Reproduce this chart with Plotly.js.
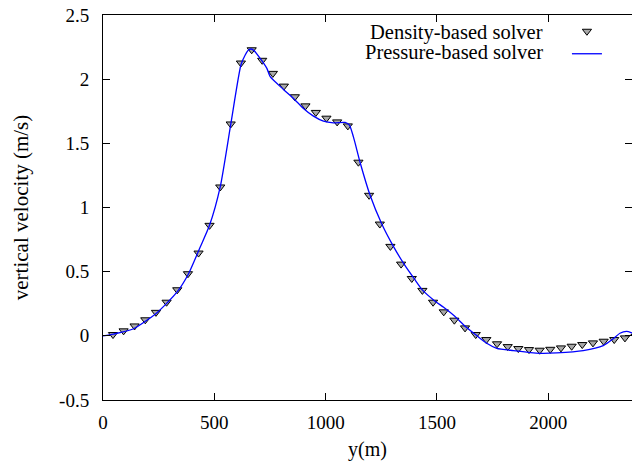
<!DOCTYPE html>
<html>
<head>
<meta charset="utf-8">
<script src="https://cdn.plot.ly/plotly-3.0.1.min.js"></script>
<style>html,body{margin:0;padding:0;background:#fff;}#chart{width:632px;height:467px;}</style>
</head>
<body>
<div id="chart"></div>
<script>
// Density-based solver (markers)
const densityX = [44.9, 92.5, 141.8, 189.9, 237.9, 285.5, 333.5, 381.5, 429.1, 478.5,
  526.5, 573.6, 619.4, 667.9, 715.0, 763.0, 812.4, 861.8, 909.3, 956.0,
  1003.6, 1051.6, 1099.6, 1147.2, 1195.2, 1243.3, 1290.8, 1338.9, 1386.9, 1434.5,
  1482.5, 1530.5, 1578.1, 1626.1, 1674.1, 1721.7, 1769.8, 1817.8, 1865.4, 1913.4,
  1961.4, 2009.0, 2057.0, 2105.0, 2152.6, 2200.6, 2248.7, 2296.2, 2344.3, 2392.0];
const densityY = [0.010, 0.039, 0.077, 0.125, 0.183, 0.262, 0.359, 0.484, 0.645, 0.861,
  1.160, 1.651, 2.126, 2.229, 2.147, 2.045, 1.946, 1.863, 1.792, 1.741,
  1.696, 1.667, 1.636, 1.353, 1.095, 0.871, 0.697, 0.559, 0.447, 0.354,
  0.262, 0.187, 0.122, 0.062, 0.010, -0.029, -0.062, -0.084, -0.099, -0.107,
  -0.112, -0.105, -0.094, -0.081, -0.068, -0.055, -0.042, -0.029, -0.016, -0.005];

// Pressure-based solver (line)
const pressureX = [0, 47.6, 137.3, 242.4, 332.1, 384.2, 436.7, 478.5, 526.5, 574.5,
  619.4, 638.7, 653.5, 665.6, 679.1, 706.0, 736.1, 750.9, 810.6, 855.5,
  900.4, 945.3, 990.1, 1035.0, 1087.5, 1106.8, 1124.8, 1154.8, 1199.7, 1252.2,
  1304.3, 1352.3, 1397.2, 1436.3, 1491.5, 1530.0, 1580.0, 1626.1, 1678.6, 1723.5,
  1768.4, 1842.9, 1962.7, 2037.7, 2157.1, 2246.9, 2291.7, 2321.8, 2351.9, 2374.3, 2411.0];
const pressureY = [0.000, 0.014, 0.055, 0.180, 0.340, 0.484, 0.692, 0.861, 1.160, 1.655,
  2.110, 2.188, 2.227, 2.235, 2.222, 2.162, 2.084, 2.019, 1.920, 1.850,
  1.772, 1.712, 1.673, 1.660, 1.663, 1.642, 1.550, 1.351, 1.095, 0.871,
  0.697, 0.559, 0.447, 0.354, 0.270, 0.222, 0.152, 0.075, 0.002, -0.058,
  -0.097, -0.115, -0.136, -0.133, -0.115, -0.076, -0.023, 0.020, 0.034, 0.023, -0.005];

const xTicks = [0, 500, 1000, 1500, 2000];
const yTicks = [-0.5, 0, 0.5, 1, 1.5, 2, 2.5];
const yTickText = ['-0.5', '0', '0.5', '1', '1.5', '2', '2.5'];
const seriesNames = ['Density-based solver', 'Pressure-based solver'];

const FONT = 'Liberation Serif, Times New Roman, serif';

const traces = [
  {
    x: densityX, y: densityY, type: 'scatter', mode: 'markers', name: ' ',
    marker: {symbol: 'triangle-down', size: 8, color: '#a8a8a8', line: {color: '#000', width: 1}}
  },
  {
    x: pressureX, y: pressureY, type: 'scatter', mode: 'lines', name: ' ',
    line: {color: '#0000ff', width: 1.3, shape: 'spline', smoothing: 0.6}
  }
];

const axisCommon = {
  showline: true, linecolor: '#000', linewidth: 1, mirror: 'ticks',
  ticks: 'inside', ticklen: 7, tickwidth: 1, tickcolor: '#000',
  showgrid: false, zeroline: false,
  tickfont: {family: FONT, size: 19, color: '#000'}
};

const layout = {
  width: 632, height: 467,
  margin: {l: 103, r: 0, t: 15, b: 67},
  paper_bgcolor: '#fff', plot_bgcolor: '#fff',
  font: {family: FONT, size: 19, color: '#000'},
  xaxis: Object.assign({}, axisCommon, {
    range: [0, 2376], tickvals: xTicks, ticktext: xTicks.map(String),
    ticklabelstandoff: 5,
    title: {text: 'y(m)', font: {family: FONT, size: 20, color: '#000'}, standoff: 10}
  }),
  yaxis: Object.assign({}, axisCommon, {
    range: [-0.5, 2.5], tickvals: yTicks, ticktext: yTickText,
    ticklabelstandoff: 9,
    title: {text: 'vertical velocity (m/s)', font: {family: FONT, size: 21, color: '#000'}, standoff: 24}
  }),
  showlegend: true,
  legend: {
    x: 0.877, y: 1.0, xanchor: 'left', yanchor: 'top',
    bgcolor: 'rgba(0,0,0,0)', borderwidth: 0,
    font: {family: FONT, size: 15, color: '#000'},
    itemwidth: 30, tracegroupgap: 0
  },
  annotations: [
    {xref: 'paper', yref: 'paper', x: 0.836, y: 0.955, xanchor: 'right', yanchor: 'middle',
     text: seriesNames[0], showarrow: false, font: {family: FONT, size: 20.5, color: '#000'}},
    {xref: 'paper', yref: 'paper', x: 0.836, y: 0.903, xanchor: 'right', yanchor: 'middle',
     text: seriesNames[1], showarrow: false, font: {family: FONT, size: 20.5, color: '#000'}}
  ]
};

Plotly.newPlot('chart', traces, layout, {displayModeBar: false, staticPlot: true});
</script>
</body>
</html>
